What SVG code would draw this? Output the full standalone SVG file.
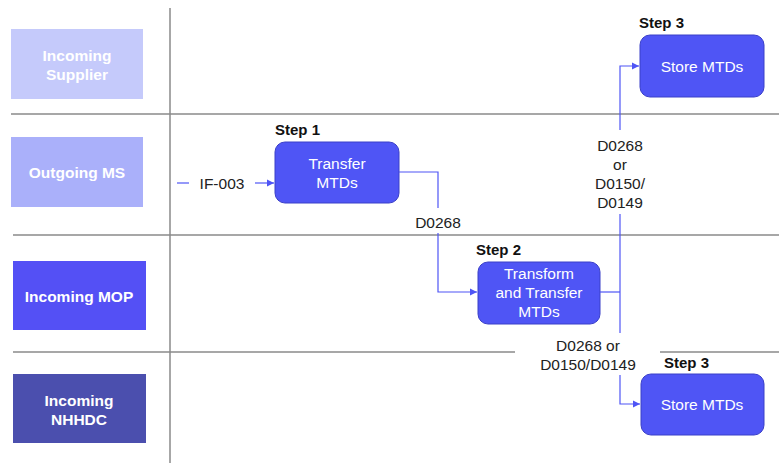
<svg xmlns="http://www.w3.org/2000/svg" width="779" height="464" viewBox="0 0 779 464">
<style>
.grid{stroke:#8a8a8a;stroke-width:1.5;fill:none}
.lane text{font-family:"Liberation Sans",Arial,sans-serif;font-size:15.5px;font-weight:bold;fill:#fff;text-anchor:middle}
.box{fill:#4f55f5;stroke:#3b40c8;stroke-width:1}
.boxt{font-family:"Liberation Sans",Arial,sans-serif;font-size:15.5px;fill:#fff;text-anchor:middle}
.step{font-family:"Liberation Sans",Arial,sans-serif;font-size:15px;font-weight:bold;fill:#111}
.lbl{font-family:"Liberation Sans",Arial,sans-serif;font-size:15.5px;fill:#222;text-anchor:middle}
.conn{stroke:#4f55f5;stroke-width:1.2;fill:none}
</style>
<defs>
<marker id="arr" markerWidth="8" markerHeight="8" refX="7" refY="4" orient="auto" markerUnits="userSpaceOnUse">
<path d="M0,0.5 L7,4 L0,7.5 Z" fill="#4f55f5"/>
</marker>
</defs>
<g id="gridlines">
<line class="grid" x1="170" y1="8" x2="170" y2="463"/>
<line class="grid" x1="11" y1="114" x2="779" y2="114"/>
<line class="grid" x1="13" y1="235" x2="779" y2="235"/>
<line class="grid" x1="13" y1="352" x2="515" y2="352"/>
<line class="grid" x1="660" y1="352" x2="779" y2="352"/>
</g>
<g id="lane-supplier" class="lane">
<rect x="11" y="29" width="132" height="70" fill="#c5cafb"/>
<text x="77" y="61">Incoming</text>
<text x="77" y="80">Supplier</text>
</g>
<g id="lane-ms" class="lane">
<rect x="11" y="137" width="132" height="70" fill="#aab0fa"/>
<text x="77" y="178">Outgoing MS</text>
</g>
<g id="lane-mop" class="lane">
<rect x="13" y="261" width="133" height="69" fill="#5450f5"/>
<text x="79" y="302">Incoming MOP</text>
</g>
<g id="lane-nhhdc" class="lane">
<rect x="13" y="374" width="133" height="69" fill="#4b4fae"/>
<text x="79" y="406">Incoming</text>
<text x="79" y="425">NHHDC</text>
</g>
<g id="step1">
<text class="step" x="275" y="135">Step 1</text>
<rect class="box" x="275" y="142" width="124" height="61" rx="10"/>
<text class="boxt" x="337" y="169">Transfer</text>
<text class="boxt" x="337" y="188">MTDs</text>
</g>
<g id="step2">
<text class="step" x="476" y="255">Step 2</text>
<rect class="box" x="478" y="262" width="122" height="62" rx="10"/>
<text class="boxt" x="539" y="279">Transform</text>
<text class="boxt" x="539" y="298">and Transfer</text>
<text class="boxt" x="539" y="317">MTDs</text>
</g>
<g id="step3a">
<text class="step" x="639" y="28">Step 3</text>
<rect class="box" x="640" y="35" width="124" height="62" rx="10"/>
<text class="boxt" x="702" y="72">Store MTDs</text>
</g>
<g id="step3b">
<text class="step" x="664" y="368">Step 3</text>
<rect class="box" x="641" y="374" width="123" height="61" rx="10"/>
<text class="boxt" x="702" y="410">Store MTDs</text>
</g>
<g id="connectors">
<line class="conn" x1="177" y1="183" x2="189" y2="183"/>
<text class="lbl" x="222" y="189">IF-003</text>
<line class="conn" x1="255" y1="183" x2="274" y2="183" marker-end="url(#arr)"/>
<polyline class="conn" points="399,172 438,172 438,208"/>
<text class="lbl" x="438" y="228">D0268</text>
<polyline class="conn" points="438,233 438,292 477,292" marker-end="url(#arr)"/>
<line class="conn" x1="600" y1="292" x2="620" y2="292"/>
<line class="conn" x1="620" y1="214" x2="620" y2="333"/>
<text class="lbl" x="620" y="151">D0268</text>
<text class="lbl" x="620" y="170">or</text>
<text class="lbl" x="620" y="189">D0150/</text>
<text class="lbl" x="620" y="208">D0149</text>
<polyline class="conn" points="620,130 620,66 639,66" marker-end="url(#arr)"/>
<text class="lbl" x="588" y="351">D0268 or</text>
<text class="lbl" x="588" y="370">D0150/D0149</text>
<polyline class="conn" points="620,375 620,404 640,404" marker-end="url(#arr)"/>
</g>
</svg>
